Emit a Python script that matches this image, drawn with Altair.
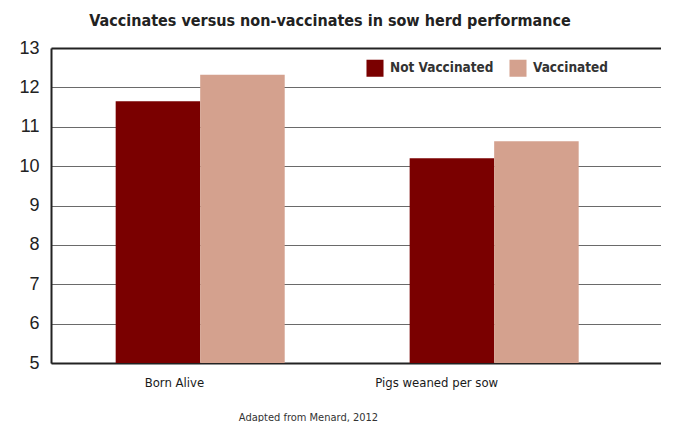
import altair as alt
import pandas as pd

categories = ["Born Alive", "Pigs weaned per sow"]
series = ["Not Vaccinated", "Vaccinated"]
not_vaccinated = [11.65, 10.2]
vaccinated = [12.32, 10.63]
y_ticks = [5, 6, 7, 8, 9, 10, 11, 12, 13]

rows = []
for i, c in enumerate(categories):
    rows.append({"category": c, "group": series[0], "value": not_vaccinated[i]})
    rows.append({"category": c, "group": series[1], "value": vaccinated[i]})
df = pd.DataFrame(rows)

NARROW = "Liberation Sans Narrow, DejaVu Sans Condensed, sans-serif"

chart = alt.Chart(df).mark_bar().encode(
    x=alt.X("category:N", sort=categories,
            scale=alt.Scale(paddingInner=0.425, paddingOuter=0.25, align=0.44),
            axis=alt.Axis(title="Adapted from Menard, 2012", labelAngle=0,
                          ticks=False, labelFontSize=13, labelFont=NARROW,
                          labelColor="#1a1a1a", labelPadding=13, labelAlign="right", labelOffset=4,
                          domainColor="#222", domainWidth=2,
                          titleFont=NARROW, titleFontSize=11, titleFontWeight="normal",
                          titleColor="#333", titlePadding=22, titleX=257)),
    xOffset=alt.XOffset("group:N", sort=series),
    y=alt.Y("value:Q", scale=alt.Scale(domain=[5, 13], zero=False, nice=False),
            axis=alt.Axis(title=None, values=y_ticks, ticks=False,
                          labelFontSize=18, labelFont="Liberation Sans, Arial, sans-serif",
                          labelColor="#222", labelPadding=12,
                          domainColor="#222", domainWidth=2,
                          gridColor={"condition": {"test": "datum.value === 13", "value": "#222"}, "value": "#6a6a6a"},
                          gridWidth={"condition": {"test": "datum.value === 13", "value": 2}, "value": 1})),
    y2=alt.datum(5),
    color=alt.Color("group:N", sort=series,
                    scale=alt.Scale(domain=series, range=["#7a0000", "#d4a18e"]),
                    legend=alt.Legend(title=None, orient="none", direction="horizontal",
                                      legendX=315, legendY=11, symbolType="square",
                                      symbolSize=290, symbolStrokeWidth=0, symbolOpacity=1,
                                      labelFont=NARROW, labelFontSize=13.5, labelFontWeight="bold",
                                      labelColor="#333", columnPadding=15, labelOffset=6)),
).properties(
    width=610,
    height=315,
    title=alt.TitleParams("Vaccinates versus non-vaccinates in sow herd performance",
                          font=NARROW, fontSize=16, fontWeight="bold", color="#222",
                          anchor="middle", offset=10, dx=-26),
).configure_view(stroke=None).configure(padding={"left": 10, "top": 5, "right": 0, "bottom": 0})

chart.save("out.html", embed_options={"renderer": "svg", "actions": False})
